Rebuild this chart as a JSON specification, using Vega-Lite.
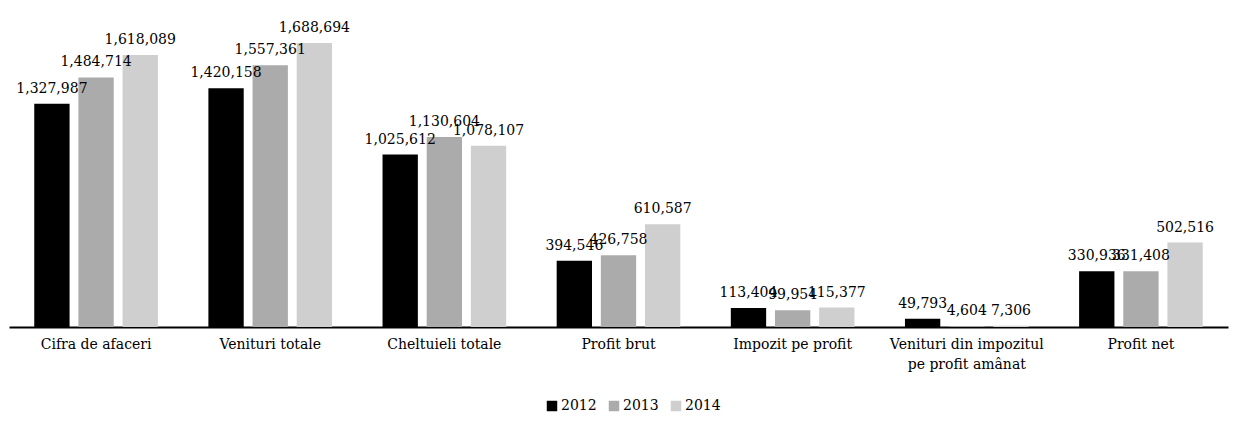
{
  "$schema": "https://vega.github.io/schema/vega-lite/v6.json",
  "autosize": "none",
  "width": 1219,
  "height": 327,
  "padding": {"left": 9, "top": 0, "right": 14, "bottom": 96},
  "background": "white",
  "config": {
    "view": {"stroke": null},
    "font": "DejaVu Serif"
  },
  "data": {
    "values": [
      {"cat": "Cifra de afaceri", "year": "2012", "value": 1327987},
      {"cat": "Cifra de afaceri", "year": "2013", "value": 1484714},
      {"cat": "Cifra de afaceri", "year": "2014", "value": 1618089},
      {"cat": "Venituri totale", "year": "2012", "value": 1420158},
      {"cat": "Venituri totale", "year": "2013", "value": 1557361},
      {"cat": "Venituri totale", "year": "2014", "value": 1688694},
      {"cat": "Cheltuieli totale", "year": "2012", "value": 1025612},
      {"cat": "Cheltuieli totale", "year": "2013", "value": 1130604},
      {"cat": "Cheltuieli totale", "year": "2014", "value": 1078107},
      {"cat": "Profit brut", "year": "2012", "value": 394546},
      {"cat": "Profit brut", "year": "2013", "value": 426758},
      {"cat": "Profit brut", "year": "2014", "value": 610587},
      {"cat": "Impozit pe profit", "year": "2012", "value": 113404},
      {"cat": "Impozit pe profit", "year": "2013", "value": 99954},
      {"cat": "Impozit pe profit", "year": "2014", "value": 115377},
      {"cat": "Venituri din impozitul pe profit amânat", "year": "2012", "value": 49793},
      {"cat": "Venituri din impozitul pe profit amânat", "year": "2013", "value": 4604},
      {"cat": "Venituri din impozitul pe profit amânat", "year": "2014", "value": 7306},
      {"cat": "Profit net", "year": "2012", "value": 330936},
      {"cat": "Profit net", "year": "2013", "value": 331408},
      {"cat": "Profit net", "year": "2014", "value": 502516}
    ]
  },
  "encoding": {
    "x": {
      "field": "cat",
      "type": "nominal",
      "sort": null,
      "title": null,
      "scale": {"paddingInner": 0.29, "paddingOuter": 0.145},
      "axis": {
        "domainColor": "black",
        "domainWidth": 2,
        "ticks": false,
        "labelAngle": 0,
        "labelFont": "DejaVu Serif",
        "labelFontSize": 14,
        "labelColor": "black",
        "labelPadding": 10,
        "labelLineHeight": 20,
        "labelBaseline": "top",
        "labelExpr": "datum.label == 'Venituri din impozitul pe profit amânat' ? ['Venituri din impozitul', 'pe profit amânat'] : datum.label"
      }
    },
    "xOffset": {
      "field": "year",
      "type": "nominal",
      "scale": {"paddingInner": 0.2, "paddingOuter": 0}
    },
    "y": {
      "field": "value",
      "type": "quantitative",
      "scale": {"domain": [0, 1945000], "nice": false},
      "axis": null
    }
  },
  "layer": [
    {
      "mark": {"type": "bar"},
      "encoding": {
        "color": {
          "field": "year",
          "type": "nominal",
          "title": null,
          "scale": {"domain": ["2012", "2013", "2014"], "range": ["#000000", "#ababab", "#cfcfcf"]},
          "legend": {
            "orient": "none",
            "legendX": 536,
            "legendY": 399,
            "direction": "horizontal",
            "symbolType": "square",
            "symbolSize": 110,
            "symbolStrokeWidth": 0,
            "labelFont": "DejaVu Serif",
            "labelFontSize": 14,
            "labelColor": "black",
            "labelOffset": 2,
            "columnPadding": 10
          }
        }
      }
    },
    {
      "mark": {"type": "text", "baseline": "bottom", "dy": -8, "fontSize": 14, "font": "DejaVu Serif", "color": "black"},
      "encoding": {
        "text": {"field": "value", "type": "quantitative", "format": ","}
      }
    }
  ]
}
